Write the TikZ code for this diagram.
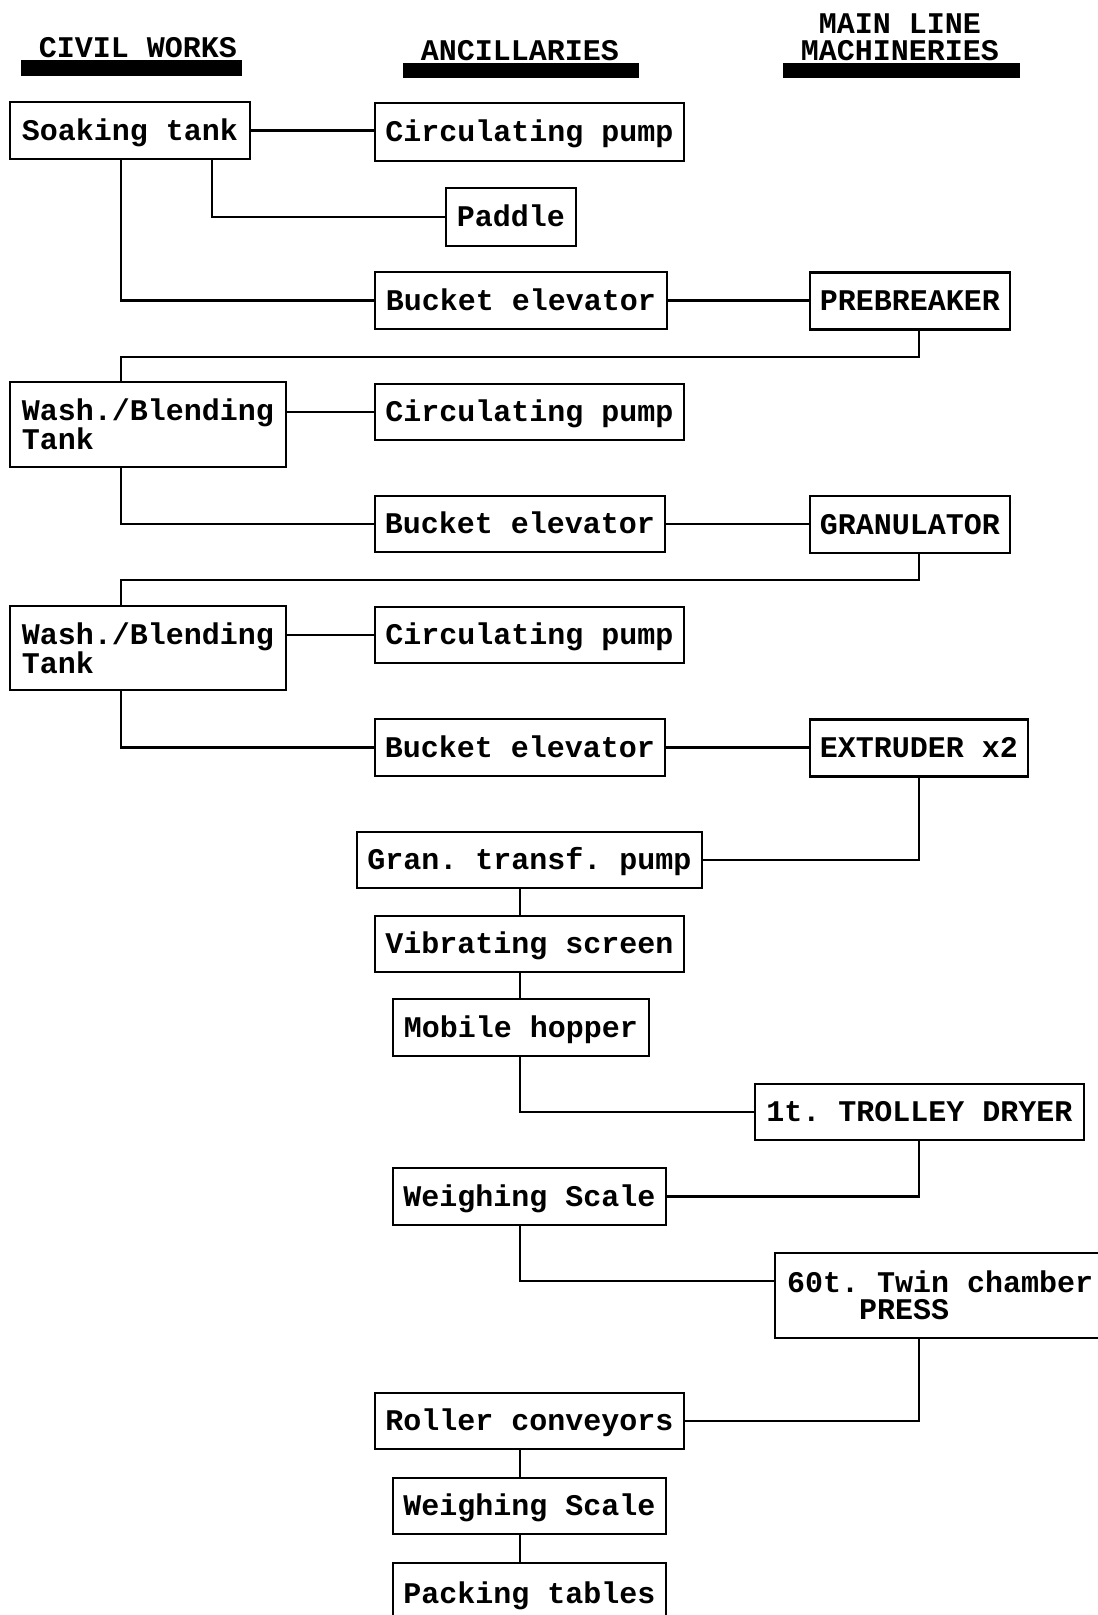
\documentclass[tikz,border=0pt]{standalone}
\usepackage{fontspec}
\newfontfamily\cour{Liberation Mono}
\begin{document}
\frenchspacing
\begin{tikzpicture}[x=1pt,y=-1pt,
  bx/.style={draw, line width=2.4pt, inner sep=0pt, font=\cour\bfseries\frenchspacing\fontsize{30}{27}\selectfont, align=left},
  one/.style={text height=22pt, text depth=3pt},
  hd/.style={inner sep=0pt, font=\cour\bfseries\fontsize{30}{27}\selectfont, align=center},
  bar/.style={fill=black, inner sep=0pt},
  ln/.style={line width=2.4pt}]
\fill[white] (0,0) rectangle (1098,1615);
\useasboundingbox (0,0) rectangle (1098,1615);

% headers
\node[hd] (h1) at (138,48) {CIVIL WORKS};
\node[bar, minimum width=221pt, minimum height=16pt] (b1) at (131.5,68) {};
\node[hd] (h2) at (520,51) {ANCILLARIES};
\node[bar, minimum width=236pt, minimum height=15pt] (b2) at (521,70.5) {};
\node[hd] (h3) at (900,37) {MAIN LINE\\MACHINERIES};
\node[bar, minimum width=237pt, minimum height=15pt] (b3) at (901.5,70.5) {};

% trunk coordinates
\coordinate (ax) at (520,0);
\coordinate (mx) at (919,0);

% boxes
\node[bx,one,minimum width=240pt,minimum height=57pt] (soak) at (130,130.5) {Soaking tank};
\node[bx,one,minimum width=309pt,minimum height=58pt] (cp1) at (529.5,132) {Circulating pump};
\node[bx,one,minimum width=130pt,minimum height=58pt] (paddle) at (511,217) {Paddle};
\node[bx,one,minimum width=292pt,minimum height=57pt] (be1) at (521,300.5) {Bucket elevator};
\node[bx,one,minimum width=200pt,minimum height=57pt] (preb) at (910,301) {PREBREAKER};

\node[bx,minimum width=276pt,minimum height=85pt] (wash1) at (148,424.5) {Wash./Blending\\Tank};
\node[bx,one,minimum width=309pt,minimum height=56pt] (cp2) at (529.5,412) {Circulating pump};
\node[bx,one,minimum width=290pt,minimum height=56pt] (be2) at (520,524) {Bucket elevator};
\node[bx,one,minimum width=200pt,minimum height=57pt] (gran) at (910,524.5) {GRANULATOR};

\node[bx,minimum width=276pt,minimum height=84pt] (wash2) at (148,648) {Wash./Blending\\Tank};
\node[bx,one,minimum width=309pt,minimum height=56pt] (cp3) at (529.5,635) {Circulating pump};
\node[bx,one,minimum width=290pt,minimum height=57pt] (be3) at (520,747.5) {Bucket elevator};
\node[bx,one,minimum width=218pt,minimum height=57pt] (extr) at (919,748) {EXTRUDER x2};

\node[bx,one,minimum width=345pt,minimum height=56pt] (gtp) at (529.5,860) {Gran. transf. pump};
\node[bx,one,minimum width=309pt,minimum height=56pt] (vib) at (529.5,944) {Vibrating screen};
\node[bx,one,minimum width=256pt,minimum height=57pt] (hop) at (521,1027.5) {Mobile hopper};
\node[bx,one,minimum width=329pt,minimum height=56pt] (dryer) at (919.5,1112) {1t. TROLLEY DRYER};
\node[bx,one,minimum width=273pt,minimum height=57pt] (ws1) at (529.5,1196.5) {Weighing Scale};
\node[bx,inner xsep=12pt,minimum height=85pt,anchor=west] (press) at (774,1295.5) {60t. Twin chamber\\\hphantom{0000}PRESS};
\node[bx,one,minimum width=309pt,minimum height=56pt] (roll) at (529.5,1421) {Roller conveyors};
\node[bx,one,minimum width=273pt,minimum height=56pt] (ws2) at (529.5,1506) {Weighing Scale};
\node[bx,one,minimum width=273pt,minimum height=100pt,anchor=north] (pack) at (529.5,1562) {\raisebox{19pt}{Packing tables}};

% connectors
\draw[ln] (soak.east) -- (soak.east -| cp1.west);
\draw[ln] ([xshift=82pt]soak.south) |- (paddle.west);
\draw[ln] ([xshift=-9pt]soak.south) |- (be1.west);
\draw[ln] (be1.east) -- (be1.east -| preb.west);
\draw[ln] ([xshift=9pt]preb.south) -- ++(0,26) -| ([xshift=-27pt]wash1.north);

\draw[ln] (cp2.west -| wash1.east) -- (cp2.west);
\draw[ln] ([xshift=-27pt]wash1.south) |- (be2.west);
\draw[ln] (be2.east) -- (be2.east -| gran.west);
\draw[ln] ([xshift=9pt]gran.south) -- ++(0,26) -| ([xshift=-27pt]wash2.north);

\draw[ln] (cp3.west -| wash2.east) -- (cp3.west);
\draw[ln] ([xshift=-27pt]wash2.south) |- (be3.west);
\draw[ln] (be3.east) -- (be3.east -| extr.west);

\draw[ln] (extr.south) |- (gtp.east);
\draw[ln] (gtp.south -| ax) -- (vib.north -| ax);
\draw[ln] (vib.south -| ax) -- (hop.north -| ax);
\draw[ln] (hop.south -| ax) |- (dryer.west);
\draw[ln] (dryer.south -| mx) |- (ws1.east);
\draw[ln] (ws1.south -| ax) |- ([yshift=14.5pt]press.west);
\draw[ln] (press.south -| mx) |- (roll.east);
\draw[ln] (roll.south -| ax) -- (ws2.north -| ax);
\draw[ln] (ws2.south -| ax) -- (pack.north -| ax);
\end{tikzpicture}
\end{document}
